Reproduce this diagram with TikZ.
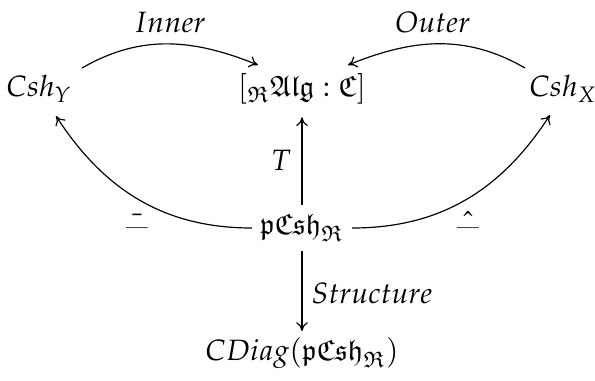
\documentclass[tikz,border=0pt]{standalone}
\usepackage{amssymb}
\usepackage{mathpazo}
\usetikzlibrary{arrows.meta}
\newcommand{\accunder}[1]{\ooalign{\_\cr\hidewidth\raisebox{-2.6pt}{$#1{\phantom{a}}$}\hidewidth\cr}}
\begin{document}
\begin{tikzpicture}[x=0.34pt,y=-0.34pt,
  obj/.style={inner sep=3pt},
  lbl/.style={inner sep=1pt},
  arr/.style={-{To[length=3pt,width=4pt]},line width=0.4pt}]
\useasboundingbox (0,0) rectangle (595,380);
\node[obj] (Y) at (39,89) {$Csh_Y$};
\node[obj] (A) at (302,89) {$[{}_{\mathfrak{R}}\mathfrak{Alg} : \mathfrak{C}]$};
\node[obj] (X) at (563,89) {$Csh_X$};
\node[obj] (P) at (302,228) {$\mathfrak{pCsh}_{\mathfrak{R}}$};
\node[obj] (D) at (302,353) {$CDiag(\mathfrak{pCsh}_{\mathfrak{R}})$};
\coordinate (ys) at (82,68);
\coordinate (ae) at (258,65);
\coordinate (xs) at (525,68);
\coordinate (aw) at (348,65);
\draw[arr] (ys) to[out=30,in=158] (ae);
\draw[arr] (xs) to[out=150,in=22] (aw);
\node[lbl] (il) at (170,22) {$Inner$};
\node[lbl] (ol) at (433,22) {$Outer$};
\coordinate (pl) at (252,228);
\coordinate (yb) at (56,116);
\coordinate (pr) at (352,228);
\coordinate (xb) at (550,115);
\draw[arr] (pl) to[out=180,in=-57] (yb);
\draw[arr] (pr) to[out=0,in=-123] (xb);
\node[lbl,anchor=base] (bl) at (137,224) {\accunder{\bar}};
\node[lbl,anchor=base] (hl) at (468,224) {\accunder{\hat}};
\draw[arr,shorten >=1.2pt] (P.north) -- (A.south);
\draw[arr,shorten >=-1pt] (P.south) -- (D.north);
\node[lbl] (tl) at (281,160) {$T$};
\node[lbl] (sl) at (372,293) {$Structure$};
\end{tikzpicture}
\end{document}
